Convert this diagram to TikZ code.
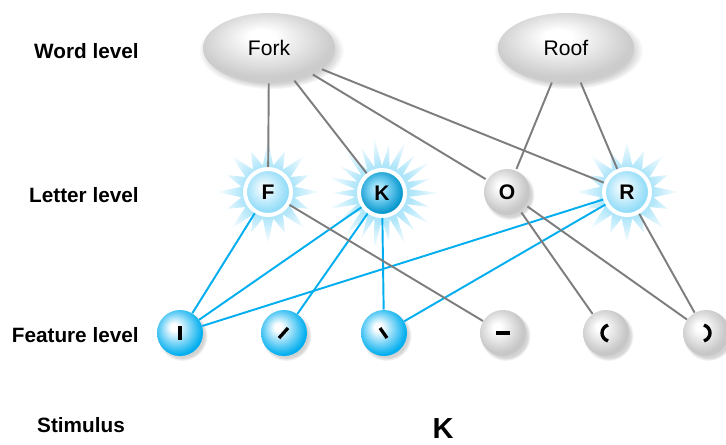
\documentclass[tikz,border=0pt]{standalone}
\usepackage{fontspec}
\setmainfont{Liberation Sans}
\usetikzlibrary{shapes.geometric,shadows,backgrounds}
\definecolor{procyan}{RGB}{0,174,239}
\definecolor{linegrey}{RGB}{125,125,125}
\pgfdeclareradialshading{glow}{\pgfpointorigin}{color(0bp)=(procyan!45); color(13bp)=(procyan!30); color(25bp)=(white); color(50bp)=(white)}
\pgfdeclareradialshading{bluebulb}{\pgfpoint{-7bp}{7bp}}{color(0bp)=(white); color(4bp)=(white); color(20bp)=(procyan!70); color(27bp)=(procyan); color(50bp)=(procyan)}
\pgfdeclareradialshading{lightbulb}{\pgfpoint{-5bp}{5bp}}{color(0bp)=(white); color(5bp)=(procyan!8); color(25bp)=(procyan!45); color(50bp)=(procyan!45)}
\pgfdeclareradialshading{hotbulb}{\pgfpoint{-5bp}{5bp}}{color(0bp)=(procyan!20); color(8bp)=(procyan!45); color(25bp)=(procyan!85!black); color(50bp)=(procyan!85!black)}
\pgfdeclareradialshading{greybulb}{\pgfpoint{-7bp}{7bp}}{color(0bp)=(white); color(4bp)=(white); color(25bp)=(black!22); color(50bp)=(black!22)}
\pgfdeclareradialshading{greyoval}{\pgfpoint{-3bp}{9bp}}{color(0bp)=(white); color(5bp)=(white); color(25bp)=(black!20); color(50bp)=(black!20)}
\begin{document}
\begin{tikzpicture}[x=0.02cm,y=-0.02cm]
\tikzstyle{every node}+=[inner sep=0pt]
\tikzstyle{lvl}=[font=\bfseries\fontsize{11.8}{14}\selectfont,anchor=base east]
\tikzstyle{soft}=[circular drop shadow={shadow xshift=1.2pt,shadow yshift=-1.4pt,opacity=0.35}]
\tikzstyle{word}=[ellipse,minimum width=2.64cm,minimum height=1.4cm,shade,shading=greyoval,soft,font=\fontsize{12}{14}\selectfont]
\tikzstyle{letter}=[circle,minimum size=0.92cm,draw=white,line width=2.27pt,shade,font=\bfseries\fontsize{12}{14}\selectfont]
\tikzstyle{feat}=[circle,minimum size=0.92cm,shade,shading=bluebulb,soft]
\tikzstyle{featgrey}=[feat,shading=greybulb]
\tikzstyle{link}=[linegrey,line width=1.1pt]
\tikzstyle{hotlink}=[procyan,line width=1.1pt]
\tikzstyle{stroke}=[line width=1.9pt]
\useasboundingbox (0,0) rectangle (726,444);

\node[lvl] (lw) at (139,58) {Word level};
\node[lvl] (ll) at (139,202) {Letter level};
\node[lvl] (lf) at (139,342) {Feature level};
\node[lvl,anchor=base] (ls) at (81,432) {Stimulus};

\node[word] (fork) at (269,48) {Fork};
\node[word,minimum width=2.72cm] (roof) at (566,48) {Roof};

\node[letter,shading=lightbulb] (F) at (268,192) {F};
\node[letter,shading=hotbulb] (K) at (382,193) {K};
\node[letter,draw=none,shading=greybulb,soft] (O) at (507,192) {O};
\node[letter,shading=lightbulb] (R) at (627,192) {R};

\node[feat] (f1) at (180,333) {};
\node[feat] (f2) at (284,333) {};
\node[feat] (f3) at (384,333) {};
\node[featgrey] (f4) at (503,333) {};
\node[featgrey] (f5) at (606,333) {};
\node[featgrey] (f6) at (706,333) {};

\node[font=\bfseries\fontsize{16.5}{18}\selectfont,anchor=base] (stim) at (443,438) {K};

\begin{scope}[on background layer]
\foreach \n/\m/\L in {F/16/52,K/22/58,R/16/52}
  \shade[shading=glow] ([shift={(0:\L)}]\n.center)
    \foreach \i in {1,...,\m} {
      -- ([shift={({(\i-0.5)*360/\m}:27)}]\n.center)
      -- ([shift={({\i*360/\m}:{\L*(1-0.15*mod(\i,2))})}]\n.center)
    } -- cycle;
\end{scope}

\draw[link] (fork) -- (F);
\draw[link] (fork) -- (K);
\draw[link] (fork) -- (O);
\draw[link] (fork) -- (R);
\draw[link] (roof) -- (O);
\draw[link] (roof) -- (R);

\draw[hotlink] (F) -- (f1);
\draw[hotlink] (K) -- (f1);
\draw[hotlink] (K) -- (f2);
\draw[hotlink] (K) -- (f3);
\draw[hotlink] (R) -- (f1);
\draw[hotlink] (R) -- (f3);
\draw[link] (F) -- (f4);
\draw[link] (O) -- (f5);
\draw[link] (O) -- (f6);
\draw[link] (R) -- (f6);

\draw[stroke] (f1.center) ++(0,-7) -- ++(0,14);
\draw[stroke] (f2.center) ++(-5,5) -- ++(9,-10);
\draw[stroke] (f3.center) ++(-4,-5) -- ++(7,10);
\draw[stroke,line width=2.1pt] (f4.center) ++(-7,0) -- ++(14,0);
\draw[stroke] (f5.center) ++(2,-8) .. controls +(-8,3) and +(-8,-3) .. ++(0,16);
\draw[stroke] (f6.center) ++(-2,-8) .. controls +(8,3) and +(8,-3) .. ++(0,16);
\end{tikzpicture}
\end{document}
